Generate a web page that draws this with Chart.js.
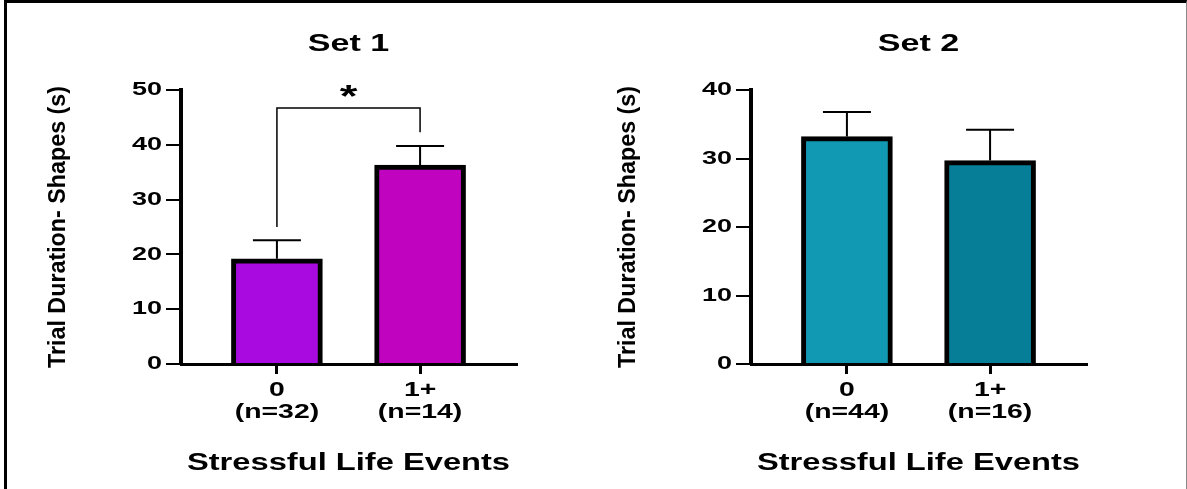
<!DOCTYPE html>
<html>
<head>
<meta charset="utf-8">
<script src="https://cdn.jsdelivr.net/npm/chart.js@4"></script>
<style>
  body { margin: 0; background: #fff; width: 1187px; height: 489px; overflow: hidden; position: relative; }
  #c1 { position: absolute; left: 0; top: 0; }
  #c2 { position: absolute; left: 593px; top: 0; }
  #frame { position: absolute; left: 4px; top: 0; width: 1183px; height: 489px; box-sizing: border-box;
           border-top: 3px solid #000; border-left: 3px solid #000; border-right: 1px solid #888; pointer-events: none; }
</style>
</head>
<body>
<canvas id="c1" width="593" height="489"></canvas>
<canvas id="c2" width="594" height="489"></canvas>
<div id="frame"></div>
<script>
'use strict'
// Set 1
let labels1 = [['0', '(n=32)'], ['1+', '(n=14)']];
let means1 = [19.2, 36.3];
let errUp1 = [22.6, 39.8];
let colors1 = ['#a80ae0', '#bf03bf'];
let yMax1 = 50;
// bracket: from bar, to bar, line level, left foot, right foot
let bracket1 = [0, 1, 46.7, 25.0, 42.3];

// Set 2
let labels2 = [['0', '(n=44)'], ['1+', '(n=16)']];
let means2 = [33.2, 29.7];
let errUp2 = [36.8, 34.2];
let colors2 = ['#1199b4', '#077e97'];
let yMax2 = 40;

let yStep = 10;
let fam = "'Liberation Sans', Arial, sans-serif";
let stretchX = 1.42;   // flat text is drawn wide in the picture
let stretchRot = 0.97; // the rotated y title is a bit narrow

let wideText = {
    id: 'wideText',
    beforeDraw(chart) {
        let ctx = chart.ctx;
        if (ctx._wide) return;
        ctx._wide = true;
        let orig = ctx.fillText;
        ctx.fillText = function (text, x, y) {
            let m = this.getTransform();
            let k = Math.abs(m.b) > 0.001 ? stretchRot : stretchX;
            this.save();
            this.translate(x, y);
            this.scale(k, 1);
            orig.call(this, text, 0, 0);
            this.restore();
        };
    }
};

let errorBars = {
    id: 'errorBars',
    afterDatasetsDraw(chart) {
        let ctx = chart.ctx;
        let xs = chart.scales.x, ys = chart.scales.y;
        let ds = chart.data.datasets[0];
        ctx.save();
        ctx.strokeStyle = '#000';
        ctx.lineWidth = 2;
        ds.data.forEach(function (p, i) {
            let px = xs.getPixelForValue(p.x);
            let y0 = ys.getPixelForValue(p.y);
            let y1 = ys.getPixelForValue(ds.errTop[i]);
            ctx.beginPath();
            ctx.moveTo(px, y0);
            ctx.lineTo(px, y1);
            ctx.moveTo(px - 24, y1);
            ctx.lineTo(px + 24, y1);
            ctx.stroke();
        });
        let b = ds.bracket;
        if (b) {
            let xa = xs.getPixelForValue(b[0]);
            let xb = xs.getPixelForValue(b[1]);
            let yl = ys.getPixelForValue(b[2]);
            ctx.lineWidth = 1.5;
            ctx.beginPath();
            ctx.moveTo(xa, ys.getPixelForValue(b[3]));
            ctx.lineTo(xa, yl);
            ctx.lineTo(xb, yl);
            ctx.lineTo(xb, ys.getPixelForValue(b[4]));
            ctx.stroke();
            ctx.fillStyle = '#000';
            ctx.font = 'bold 32px ' + fam;
            ctx.textAlign = 'center';
            ctx.textBaseline = 'alphabetic';
            ctx.fillText('*', (xa + xb) / 2, yl - 1.5);
        }
        ctx.restore();
    }
};

function makeChart(id, title, labels, means, errUp, colors, yMax, bracket, pad, yWidth, yTitlePad) {
    let pts = [];
    for (let i = 0; i < means.length; i++) {
        pts.push({ x: i, y: means[i] });
    }
    return new Chart(document.getElementById(id), {
        type: 'bar',
        data: {
            datasets: [{
                data: pts,
                errTop: errUp,
                bracket: bracket,
                backgroundColor: colors,
                borderColor: '#000',
                borderWidth: 5,
                barThickness: 91
            }]
        },
        options: {
            responsive: false,
            animation: false,
            layout: { padding: { left: pad[0], right: pad[1], top: 0, bottom: 0 } },
            plugins: {
                legend: { display: false },
                tooltip: { enabled: false },
                title: {
                    display: true, text: title, fullSize: false, color: '#000',
                    font: { family: fam, size: 24, weight: 'bold' },
                    padding: { top: 30, bottom: 31.2 }
                }
            },
            scales: {
                x: {
                    type: 'linear', min: -0.67, max: 1.67, offset: false,
                    afterBuildTicks: function (s) { s.ticks = labels.map(function (l, i) { return { value: i }; }); },
                    afterFit: function (s) { s.height = 125; },
                    grid: { offset: false, drawOnChartArea: false, tickLength: 10, lineWidth: 3, color: '#000' },
                    border: { color: '#000', width: 3 },
                    ticks: {
                        color: '#000', padding: 5, maxRotation: 0, autoSkip: false,
                        font: { family: fam, size: 20, weight: 'bold', lineHeight: 1.1 },
                        callback: function (v) { return labels[v]; }
                    },
                    title: {
                        display: true, text: 'Stressful Life Events', color: '#000',
                        font: { family: fam, size: 23, weight: 'bold' },
                        padding: { top: 0, bottom: 12 }
                    }
                },
                y: {
                    min: 0, max: yMax,
                    afterFit: function (s) { s.width = yWidth; },
                    grid: { drawOnChartArea: false, tickLength: 15, lineWidth: 2, color: '#000' },
                    border: { color: '#000', width: 4 },
                    ticks: {
                        stepSize: yStep, color: '#000', padding: 4,
                        font: { family: fam, size: 19, weight: 'bold' }
                    },
                    title: {
                        display: true, text: 'Trial Duration- Shapes (s)', color: '#000',
                        font: { family: fam, size: 24, weight: 'bold' },
                        padding: { top: yTitlePad, bottom: 0 }
                    }
                }
            }
        },
        plugins: [wideText, errorBars]
    });
}

makeChart('c1', 'Set 1', labels1, means1, errUp1, colors1, yMax1, bracket1, [30, 77], 151, 14);
makeChart('c2', 'Set 2', labels2, means2, errUp2, colors2, yMax2, null, [10, 101], 148, 11);
</script>
</body>
</html>
